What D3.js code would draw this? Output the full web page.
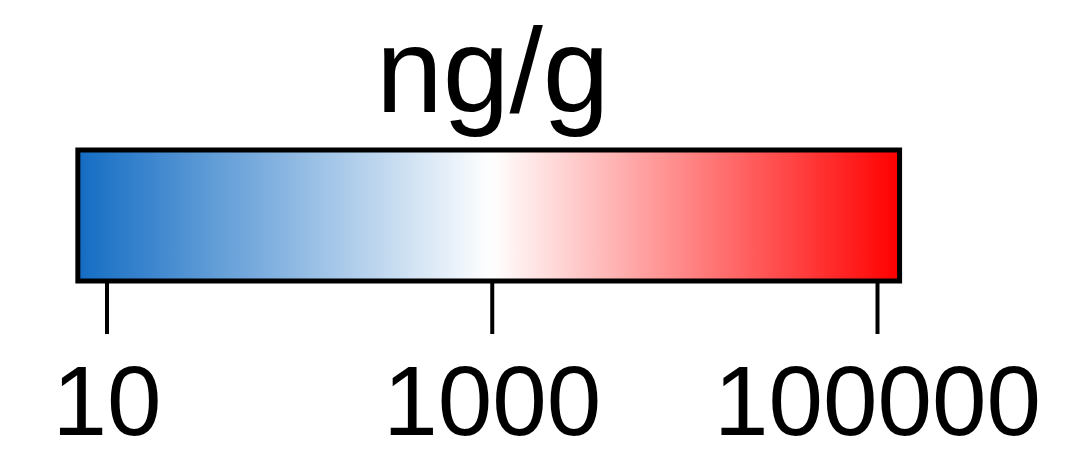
<!DOCTYPE html>
<html>
<head>
<meta charset="utf-8">
<script src="https://cdn.jsdelivr.net/npm/d3@7"></script>
<style>
  html, body { margin: 0; padding: 0; background: #fff; }
  svg { display: block; }
</style>
</head>
<body>
<svg id="chart" width="1079" height="471"></svg>
<script>
// ---- data ----
const legendTitle = "ng/g";
const tickValues = [10, 1000, 100000];
const tickLabels = ["10", "1000", "100000"];
const colorStops = [7.1, 1000, 131000];          // value range covered by the bar
const colorValues = ["#136cc3", "#ffffff", "#ff0000"];

// ---- layout ----
const W = 1079, H = 471;
const svg = d3.select("#chart");
const barTop = 150, barBottom = 281;

const x = d3.scaleLog().domain([10, 100000]).range([106.5, 877]);
const color = d3.scaleLog().domain(colorStops).range(colorValues).interpolate(d3.interpolateRgb);

// gradient
const defs = svg.append("defs");
const grad = defs.append("linearGradient").attr("id", "grad")
  .attr("x1", "0%").attr("x2", "100%").attr("y1", "0%").attr("y2", "0%");
const lo = Math.log10(colorStops[0]), hi = Math.log10(colorStops[2]);
d3.range(0, 101).forEach(i => {
  const t = i / 100;
  const v = Math.pow(10, lo + t * (hi - lo));
  grad.append("stop").attr("offset", (t * 100) + "%").attr("stop-color", color(v));
});

const x0 = x(colorStops[0]), x1 = x(colorStops[2]);
svg.append("rect")
  .attr("x", x0).attr("y", barTop)
  .attr("width", x1 - x0).attr("height", barBottom - barTop)
  .attr("fill", "url(#grad)")
  .attr("stroke", "#000").attr("stroke-width", 5);

// axis
const axis = d3.axisBottom(x).tickValues(tickValues)
  .tickFormat((d, i) => tickLabels[i]).tickSize(51).tickPadding(0);
const g = svg.append("g").attr("transform", `translate(0,${barBottom + 2})`).call(axis);
g.select(".domain").remove();
g.selectAll(".tick line").attr("stroke", "#000").attr("stroke-width", 4);
g.selectAll(".tick text")
  .attr("y", 152).attr("dy", 0)
  .attr("fill", "#000")
  .style("font-family", "'Liberation Sans', Arial, sans-serif")
  .style("font-size", "98px");

// title
svg.append("text")
  .attr("x", (x0 + x1) / 2 + 4).attr("y", 112)
  .attr("text-anchor", "middle")
  .style("font-family", "'Liberation Sans', Arial, sans-serif")
  .style("font-size", "120px")
  .attr("fill", "#000")
  .text(legendTitle);
</script>
</body>
</html>
